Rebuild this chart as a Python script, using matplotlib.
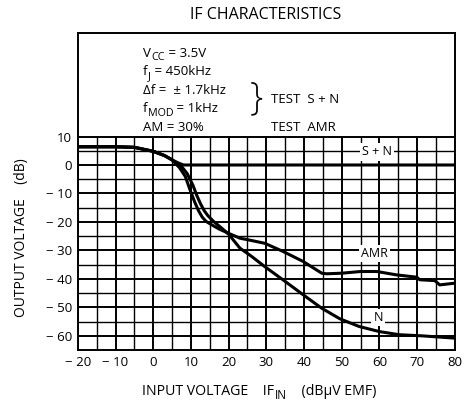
import matplotlib
matplotlib.use("Agg")
import matplotlib.pyplot as plt

plt.rcParams['font.family'] = ['Open Sans', 'DejaVu Sans']

# curves
amr_x = [-20, -10, -5, 0, 3, 5, 7, 8.5, 9.7, 11, 12, 13, 14, 15.5, 17.5, 20, 23, 26,
         29.6, 34.5, 39.8, 44.7, 46, 50, 55, 59.3, 64.6, 69.9, 70.7, 74.7, 76, 80]
amr_y = [6.4, 6.4, 6.2, 4.8, 3.3, 1.8, -1, -4, -8.5, -13, -16, -18.3, -19.8, -21, -22.5,
         -24, -25.7, -26.5, -27.5, -30.4, -33.9, -38, -38.2, -38, -37.4, -37.4, -38.6,
         -39.4, -40.3, -40.6, -42.1, -41.5]

n_x = [-20, -10, -5, 0, 3, 5, 7.5, 9, 10.5, 11.5, 12.5, 13.5, 14.5, 16, 18, 20, 23, 26,
       29.6, 34.5, 39.8, 44.7, 49.5, 54.6, 60, 65.3, 71.4, 80]
n_y = [6.4, 6.4, 6.2, 4.8, 3.3, 1.8, -0.5, -3, -7, -10.5, -13.5, -16, -17.8, -19.8,
       -22, -24.3, -29.2, -32, -35.7, -40.4, -45.6, -50.3, -54, -56.7, -58.5, -59.6, -60, -60.8]

sn_x = [-20, -10, -5, 0, 3, 5, 6.5, 8, 80]
sn_y = [6.4, 6.4, 6.2, 4.8, 3.3, 1.8, 0.8, 0, 0]

x_ticks = [-20, -10, 0, 10, 20, 30, 40, 50, 60, 70, 80]
y_ticks = [10, 0, -10, -20, -30, -40, -50, -60]

fig = plt.figure(figsize=(4.66, 4.09), dpi=100)
ax = fig.add_axes([0.167, 0.144, 0.809, 0.775])
ax.set_xlim(-20, 80)
ax.set_ylim(-65, 46.3)


def rich_text(x, y, parts, size, coords):
    # text with near full-size subscripts, pieces chained one after another
    base = ax.annotate(parts[0][0], xy=(x, y), xycoords=coords, fontsize=size,
                       ha='left', va='bottom')
    prev = base
    for s, sub in parts[1:]:
        if sub:
            t = ax.annotate(s, xy=(1, 0), xycoords=(prev, base), xytext=(0.3, -2.6),
                            textcoords='offset points', fontsize=size * 0.82, va='bottom')
        else:
            t = ax.annotate(s, xy=(1, 0), xycoords=(prev, base), fontsize=size, va='bottom')
        prev = t


# grid only in the lower part of the box
for gx in range(-20, 81, 5):
    ax.plot([gx, gx], [-65, 10], color='black', lw=1.4 if gx % 10 == 0 else 1.0, zorder=1)
for gy in range(-65, 11, 5):
    ax.plot([-20, 80], [gy, gy], color='black', lw=1.4 if gy % 10 == 0 else 1.0, zorder=1)

ax.plot(sn_x, sn_y, color='black', lw=2.2, zorder=3)
ax.plot(amr_x, amr_y, color='black', lw=2.2, zorder=3)
ax.plot(n_x, n_y, color='black', lw=2.2, zorder=3)

for lbl, lx, ly in [('S + N', 59.3, 4.6), ('AMR', 58.8, -31), ('N', 59.7, -53.5)]:
    ax.text(lx, ly, lbl, ha='center', va='center', fontsize=9, zorder=4,
            bbox=dict(facecolor='white', edgecolor='none', pad=1.5))

ax.set_xticks(x_ticks)
ax.set_xticklabels([('\u2212 %d' % -v) if v < 0 else str(v) for v in x_ticks], fontsize=9.5)
ax.set_yticks(y_ticks)
ax.set_yticklabels([('\u2212 %d' % -v) if v < 0 else str(v) for v in y_ticks], fontsize=9.5)
ax.tick_params(length=0, pad=4)
for s in ax.spines.values():
    s.set_linewidth(1.4)

# test conditions
cond = [[('V', False), ('CC', True), (' = 3.5V', False)],
        [('f', False), ('J', True), (' = 450kHz', False)],
        [('\u0394f =  \u00b1 1.7kHz', False)],
        [('f', False), ('MOD', True), (' = 1kHz', False)],
        [('AM = 30%', False)]]
for i, c in enumerate(cond):
    rich_text(-2.7, 37.0 - i * 6.5, c, 9.5, 'data')
ax.text(27.3, 23.0, '}', ha='center', va='center', fontsize=27, fontweight='light')
ax.text(31.2, 23.0, 'TEST  S + N', ha='left', va='center', fontsize=9.5)
ax.text(31.2, 13.3, 'TEST  AMR', ha='left', va='center', fontsize=9.5)

fig.text(0.569, 0.963, 'IF CHARACTERISTICS', ha='center', va='center', fontsize=11.5)
fig.text(0.047, 0.42, 'OUTPUT VOLTAGE    (dB)', ha='center', va='center', rotation=90, fontsize=10)
rich_text(0.305, 0.025, [('INPUT VOLTAGE    IF', False), ('IN', True),
                         ('    (dB\u03bcV EMF)', False)], 10.2, 'figure fraction')

fig.savefig('out.png', dpi=100)
